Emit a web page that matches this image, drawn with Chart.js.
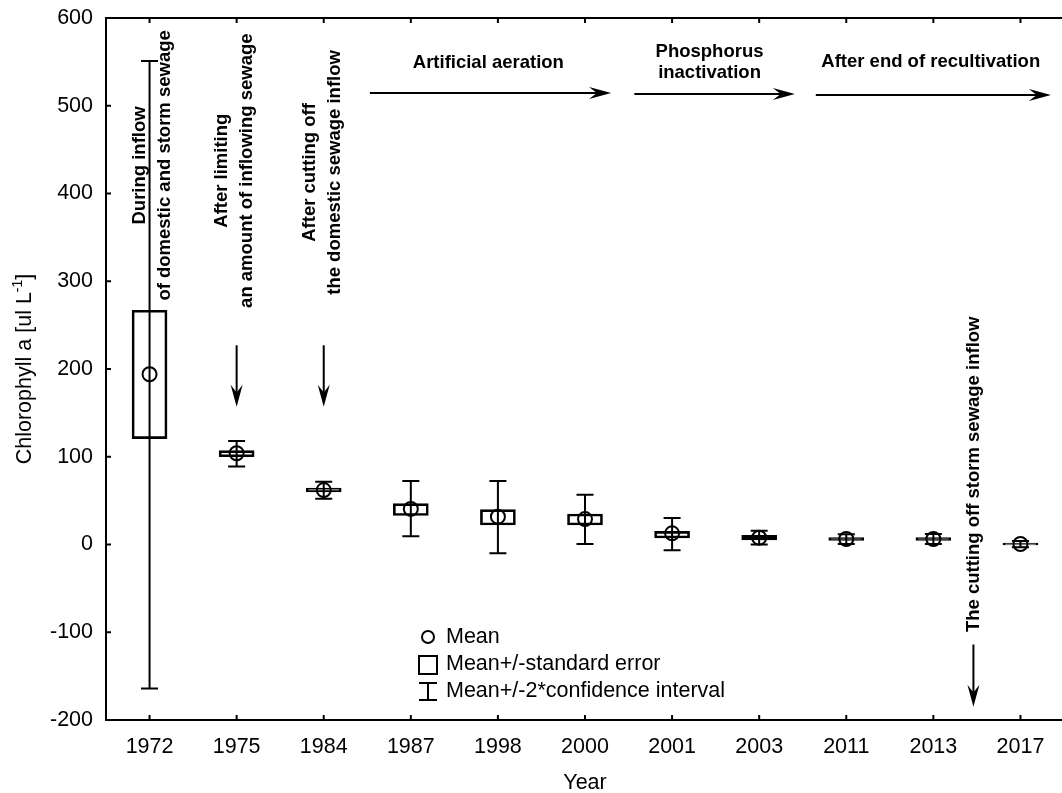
<!DOCTYPE html>
<html>
<head>
<meta charset="utf-8">
<script src="https://cdn.jsdelivr.net/npm/chart.js@4/dist/chart.umd.min.js"></script>
<style>
  html, body { margin: 0; padding: 0; background: #fff; overflow: hidden; }
  #wrap { width: 1062px; height: 793px; overflow: hidden; }
</style>
</head>
<body>
<div id="wrap"><canvas id="chlChart" width="1073" height="793"></canvas></div>
<script>
// data
const years = ["1972", "1975", "1984", "1987", "1998", "2000", "2001", "2003", "2011", "2013", "2017"];
const means = [194, 104, 62, 40.5, 31.7, 29, 12.7, 7.8, 6.3, 6.3, 0.6];
const seLow = [120.6, 100, 60, 33, 22.2, 22.2, 7.4, 5.3, 4.6, 4.6, -0.6];
const seHigh = [267, 107, 64.4, 46.5, 39.7, 34.8, 15, 10.5, 8, 8, 1.6];
const ciLow = [-164, 89, 52, 9.3, -10, 0.6, -6.6, 0, 0.5, 0.5, -3];
const ciHigh = [551, 118, 71.6, 72.4, 72.4, 56.8, 30.2, 15.7, 11.6, 12, 4];
const yTicks = [-200, -100, 0, 100, 200, 300, 400, 500, 600];

const FONT = "Arial, 'Liberation Sans', sans-serif";
const BOLD = "bold 18.5px " + FONT;
const REG = "21.5px " + FONT;

// vertical notes (x = category index, y = value at block centre)
const vNotes = [
  { lines: ["During inflow", "of domestic and storm sewage"], x: 0.03, y: 432 },
  { lines: ["After limiting", "an amount of inflowing sewage"], x: 0.98, y: 426 },
  { lines: ["After cutting off", "the domestic sewage inflow"], x: 1.98, y: 424 },
  { lines: ["The cutting off storm sewage inflow"], x: 9.46, y: 80 },
];
const downArrows = [
  { x: 1, from: 227, to: 157 },
  { x: 2, from: 227, to: 157 },
  { x: 9.46, from: -114, to: -185 },
];
const periods = [
  { lines: ["Artificial aeration"], tx: 3.89, ty: [549], from: 2.53, to: 5.3, y: 514.5 },
  { lines: ["Phosphorus", "inactivation"], tx: 6.43, ty: [561.5, 537], from: 5.567, to: 7.41, y: 513.4 },
  { lines: ["After end of recultivation"], tx: 8.97, ty: [549.5], from: 7.65, to: 10.35, y: 512.3 },
];

function arrowHead(ctx, x, y, angle, len, half) {
  ctx.save();
  ctx.translate(x, y);
  ctx.rotate(angle);
  ctx.beginPath();
  ctx.moveTo(0, 0);
  ctx.lineTo(-len, -half);
  ctx.lineTo(-len * 0.65, 0);
  ctx.lineTo(-len, half);
  ctx.closePath();
  ctx.fill();
  ctx.restore();
}

const extras = {
  id: "extras",
  afterDatasetsDraw(chart) {
    const { ctx, chartArea: a, scales: { x, y } } = chart;
    ctx.save();
    ctx.strokeStyle = "#000";
    ctx.fillStyle = "#000";
    ctx.lineWidth = 2;

    // whiskers (mean +/- 2*CI)
    years.forEach((yr, i) => {
      const px = x.getPixelForValue(i);
      const top = y.getPixelForValue(ciHigh[i]);
      const bot = y.getPixelForValue(ciLow[i]);
      ctx.beginPath();
      ctx.moveTo(px, top); ctx.lineTo(px, bot);
      ctx.moveTo(px - 8.5, top); ctx.lineTo(px + 8.5, top);
      ctx.moveTo(px - 8.5, bot); ctx.lineTo(px + 8.5, bot);
      ctx.stroke();
    });

    // frame + inward ticks
    ctx.lineWidth = 2;
    ctx.strokeRect(a.left, a.top, a.right - a.left, a.bottom - a.top);
    ctx.beginPath();
    x.ticks.forEach((t, i) => {
      const px = x.getPixelForTick(i);
      ctx.moveTo(px, a.bottom); ctx.lineTo(px, a.bottom - 5);
      ctx.moveTo(px, a.top); ctx.lineTo(px, a.top + 5);
    });
    y.ticks.forEach((t, i) => {
      const py = y.getPixelForTick(i);
      ctx.moveTo(a.left, py); ctx.lineTo(a.left + 5, py);
    });
    ctx.stroke();

    // vertical notes
    ctx.font = BOLD;
    ctx.textAlign = "center";
    ctx.textBaseline = "middle";
    vNotes.forEach(n => {
      const cx = x.getPixelForValue(n.x);
      const cy = y.getPixelForValue(n.y);
      ctx.save();
      ctx.translate(cx, cy);
      ctx.rotate(-Math.PI / 2);
      const off = (n.lines.length - 1) * 12.5;
      n.lines.forEach((l, k) => ctx.fillText(l, 0, -off + k * 25));
      ctx.restore();
    });

    // down arrows
    ctx.lineWidth = 2;
    downArrows.forEach(d => {
      const px = x.getPixelForValue(d.x);
      const y0 = y.getPixelForValue(d.from);
      const y1 = y.getPixelForValue(d.to);
      ctx.beginPath();
      ctx.moveTo(px, y0); ctx.lineTo(px, y1 - 10);
      ctx.stroke();
      arrowHead(ctx, px, y1, Math.PI / 2, 22, 6);
    });

    // period arrows with labels
    periods.forEach(p => {
      const x0 = x.getPixelForValue(p.from);
      const x1 = x.getPixelForValue(p.to);
      const py = y.getPixelForValue(p.y);
      ctx.beginPath();
      ctx.moveTo(x0, py); ctx.lineTo(x1 - 10, py);
      ctx.stroke();
      arrowHead(ctx, x1, py, 0, 22, 6);
      const tx = x.getPixelForValue(p.tx);
      p.lines.forEach((l, k) => ctx.fillText(l, tx, y.getPixelForValue(p.ty[k])));
    });

    // legend
    ctx.lineWidth = 2;
    ctx.beginPath();
    ctx.arc(428, 637, 6, 0, Math.PI * 2);
    ctx.stroke();
    ctx.strokeRect(419, 656, 18, 18);
    ctx.beginPath();
    ctx.moveTo(428, 683); ctx.lineTo(428, 700);
    ctx.moveTo(419, 683); ctx.lineTo(437, 683);
    ctx.moveTo(419, 700); ctx.lineTo(437, 700);
    ctx.stroke();
    ctx.font = REG;
    ctx.textAlign = "left";
    ctx.fillText("Mean", 446, 637);
    ctx.fillText("Mean+/-standard error", 446, 664);
    ctx.fillText("Mean+/-2*confidence interval", 446, 691);

    // axis titles
    ctx.textAlign = "center";
    ctx.fillText("Year", (a.left + a.right) / 2, 783);
    ctx.save();
    ctx.translate(25, (a.top + a.bottom) / 2);
    ctx.rotate(-Math.PI / 2);
    const main = "Chlorophyll a [ul L";
    const sup = "-1";
    const end = "]";
    ctx.font = REG;
    const wMain = ctx.measureText(main).width;
    const wEnd = ctx.measureText(end).width;
    ctx.font = "14px " + FONT;
    const wSup = ctx.measureText(sup).width;
    let sx = -(wMain + wSup + wEnd) / 2;
    ctx.textAlign = "left";
    ctx.font = REG;
    ctx.fillText(main, sx, 0);
    sx += wMain;
    ctx.font = "14px " + FONT;
    ctx.fillText(sup, sx, -7);
    sx += wSup;
    ctx.font = REG;
    ctx.fillText(end, sx, 0);
    ctx.restore();

    ctx.restore();
  }
};

const ctx = document.getElementById("chlChart");
new Chart(ctx, {
  type: "bar",
  data: {
    labels: years,
    datasets: [
      {
        type: "line",
        label: "Mean",
        data: means,
        showLine: false,
        pointStyle: "circle",
        pointRadius: 7,
        pointHoverRadius: 7,
        pointBorderWidth: 2,
        pointBorderColor: "#000",
        pointBackgroundColor: "rgba(0,0,0,0)",
        order: 0,
      },
      {
        type: "bar",
        label: "Mean+/-standard error",
        data: years.map((yr, i) => [seLow[i], seHigh[i]]),
        barThickness: 35,
        borderWidth: 2,
        borderColor: "#000",
        backgroundColor: "rgba(0,0,0,0)",
        borderSkipped: false,
        order: 1,
      },
    ],
  },
  options: {
    responsive: false,
    animation: false,
    devicePixelRatio: 1,
    layout: { padding: { top: 18, right: 2, left: 0, bottom: 0 } },
    plugins: { legend: { display: false }, tooltip: { enabled: false } },
    scales: {
      x: {
        grid: { display: false },
        border: { display: false },
        ticks: { color: "#000", font: { family: FONT, size: 21.5 }, padding: 6, maxRotation: 0, autoSkip: false },
        afterFit(s) { s.height = 73; },
      },
      y: {
        min: -200,
        max: 600,
        afterBuildTicks(s) { s.ticks = yTicks.map(v => ({ value: v })); },
        grid: { display: false },
        border: { display: false },
        ticks: { color: "#000", font: { family: FONT, size: 21.5 }, padding: 5 },
        afterFit(s) { s.width = 106; },
      },
    },
  },
  plugins: [extras],
});
</script>
</body>
</html>
